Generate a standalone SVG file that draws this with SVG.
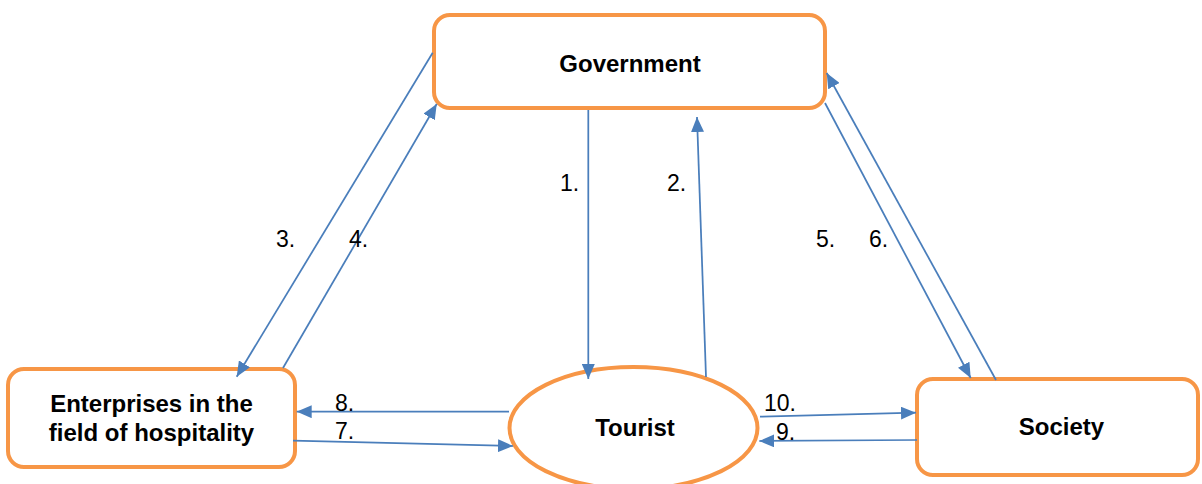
<svg xmlns="http://www.w3.org/2000/svg" width="1202" height="484" viewBox="0 0 1202 484">
<style>
.node{fill:#ffffff;stroke:#f79646;stroke-width:4}
.lbl{font-family:"Liberation Sans",Arial,sans-serif;font-size:24px;font-weight:bold;fill:#000000;text-anchor:middle}
.num{font-family:"Liberation Sans",Arial,sans-serif;font-size:23px;fill:#000000}
.edge{stroke:#4a7ebb;stroke-width:1.75;fill:none;marker-end:url(#ah)}
</style>
<defs>
<marker id="ah" viewBox="0 0 15 13" refX="15" refY="6.5" markerWidth="15" markerHeight="13" markerUnits="userSpaceOnUse" orient="auto">
<path d="M0,0 L15,6.5 L0,13 z" fill="#4a7ebb"/>
</marker>
</defs>
<rect width="1202" height="484" fill="#ffffff"/>
<g id="government">
<rect class="node" x="434" y="15" width="391" height="93" rx="16"/>
<text class="lbl" x="630" y="72">Government</text>
</g>
<g id="enterprises">
<rect class="node" x="8" y="369" width="287" height="98" rx="16"/>
<text class="lbl" x="151.5" y="411.5">Enterprises in the</text>
<text class="lbl" x="151.5" y="440.5">field of hospitality</text>
</g>
<g id="tourist">
<ellipse class="node" cx="633.5" cy="428" rx="124" ry="61"/>
<text class="lbl" x="635" y="436">Tourist</text>
</g>
<g id="society">
<rect class="node" x="917" y="379" width="281" height="96" rx="16"/>
<text class="lbl" x="1061.5" y="435">Society</text>
</g>
<g id="connectors">
<line class="edge" x1="588.3" y1="110" x2="588.3" y2="379"/>
<line class="edge" x1="706" y1="377" x2="697" y2="117"/>
<line class="edge" x1="432.7" y1="52.7" x2="236.7" y2="376.7"/>
<line class="edge" x1="283" y1="368" x2="436.7" y2="104"/>
<line class="edge" x1="825" y1="103" x2="970.7" y2="378"/>
<line class="edge" x1="996" y1="380" x2="826.7" y2="73"/>
<line class="edge" x1="509" y1="411.7" x2="296.7" y2="411.7"/>
<line class="edge" x1="293" y1="440.7" x2="513" y2="446"/>
<line class="edge" x1="760" y1="416.7" x2="916" y2="412.7"/>
<line class="edge" x1="917" y1="440" x2="759.3" y2="441"/>
<text class="num" x="560" y="191">1.</text>
<text class="num" x="667" y="191">2.</text>
<text class="num" x="276" y="247">3.</text>
<text class="num" x="349" y="247">4.</text>
<text class="num" x="816" y="247">5.</text>
<text class="num" x="869" y="247">6.</text>
<text class="num" x="335" y="411">8.</text>
<text class="num" x="335" y="439">7.</text>
<text class="num" x="764" y="411">10.</text>
<text class="num" x="776" y="440">9.</text>
</g>
</svg>
